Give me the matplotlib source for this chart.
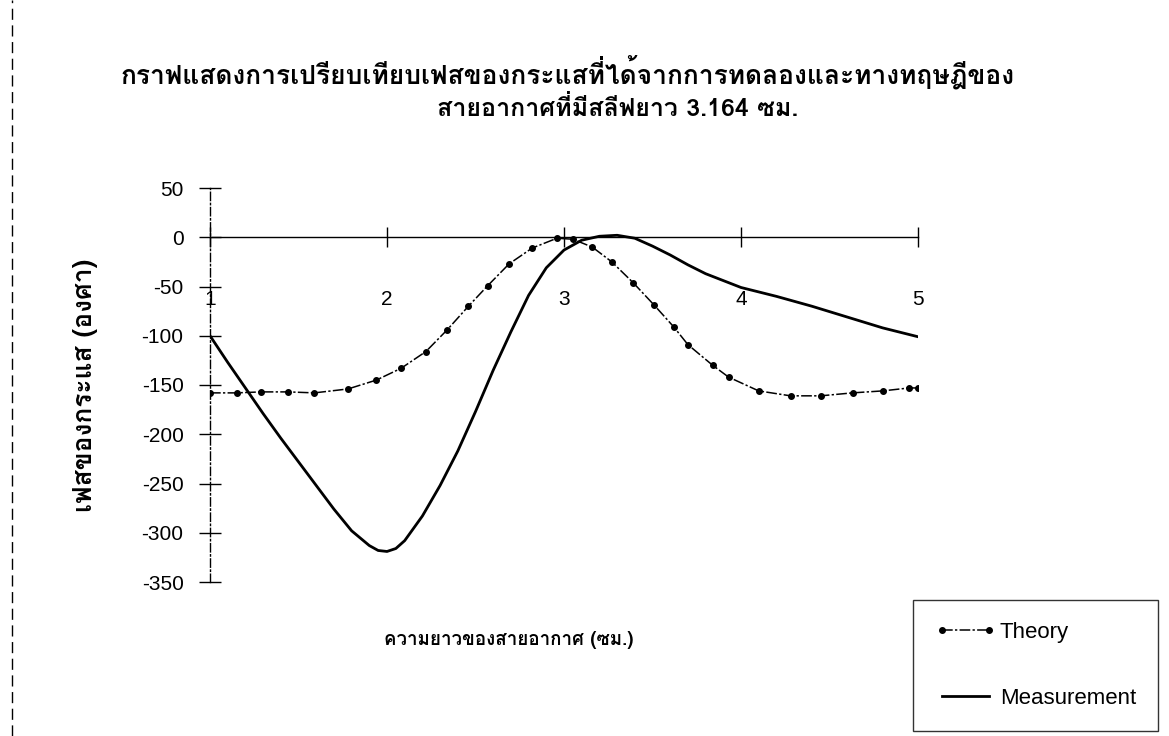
import matplotlib
matplotlib.use("Agg")
import matplotlib.pyplot as plt
from matplotlib import font_manager
from matplotlib.ft2font import FT2Font
from matplotlib.lines import Line2D

# data
theory_x = [1.00, 1.15, 1.29, 1.44, 1.59, 1.78, 1.94, 2.08, 2.22, 2.34, 2.46, 2.57,
            2.69, 2.82, 2.96, 3.05, 3.16, 3.27, 3.39, 3.51, 3.62, 3.70, 3.84, 3.93,
            4.10, 4.28, 4.45, 4.63, 4.80, 4.95, 5.00]
theory_y = [-158, -158, -157, -157, -158, -154, -145, -133, -116, -94, -70, -49,
            -27, -11, -1, -2, -10, -25, -46, -69, -91, -109, -130, -142,
            -156, -161, -161, -158, -156, -153, -153]

meas_x = [1.0, 1.1, 1.2, 1.3, 1.4, 1.5, 1.6, 1.7, 1.8, 1.9, 1.95, 2.0, 2.05, 2.1,
          2.2, 2.3, 2.4, 2.5, 2.6, 2.7, 2.8, 2.9, 3.0, 3.1, 3.2, 3.3, 3.4, 3.5,
          3.6, 3.7, 3.8, 3.9, 4.0, 4.2, 4.4, 4.6, 4.8, 5.0]
meas_y = [-100, -127, -153, -179, -204, -228, -252, -276, -298, -313, -318, -319,
          -316, -308, -283, -252, -217, -177, -135, -96, -59, -31, -13, -3, 1, 2,
          -1, -9, -18, -28, -37, -44, -51, -60, -70, -81, -92, -101]

x_ticks = [1, 2, 3, 4, 5]
y_ticks = [-350, -300, -250, -200, -150, -100, -50, 0, 50]

title_1 = "กราฟแสดงการเปรียบเทียบเฟสของกระแสที่ได้จากการทดลองและทางทฤษฎีของ"
title_2 = "สายอากาศที่มีสลีฟยาว 3.164 ซม."
x_label = "ความยาวของสายอากาศ (ซม.)"
y_label = "เฟสของกระแส (องศา)"


def find_thai_font():
    # look for any installed font that has Thai glyphs
    for f in font_manager.fontManager.ttflist:
        try:
            if 0x0E01 in FT2Font(f.fname).get_charmap():
                return f.name
        except Exception:
            pass
    return None


thai = find_thai_font()
thai_family = [thai, "DejaVu Sans"] if thai else ["DejaVu Sans"]

plt.rcParams["font.family"] = ["Liberation Sans", "DejaVu Sans"]
plt.rcParams["axes.unicode_minus"] = False

fig = plt.figure(figsize=(11.69, 7.36), dpi=100)
ax = fig.add_axes([210 / 1169, 1 - 582 / 736, 708 / 1169, 394 / 736])

ax.plot(theory_x, theory_y, color="black", lw=1.1, marker="o", markersize=4,
        linestyle=(0, (7, 1.5, 1.5, 1.5)), label="Theory")
ax.plot(meas_x, meas_y, color="black", lw=2.0, label="Measurement")

ax.set_xlim(1, 5)
ax.set_ylim(-350, 50)
ax.set_xticks(x_ticks)
ax.set_yticks(y_ticks)
ax.set_yticklabels([str(v) for v in y_ticks])

ax.spines["top"].set_visible(False)
ax.spines["right"].set_visible(False)
ax.spines["bottom"].set_position(("data", 0))
ax.spines["bottom"].set_linewidth(1.0)
ax.spines["left"].set_linewidth(1.0)
ax.spines["left"].set_linestyle((0, (6, 2, 1, 2)))

ax.tick_params(axis="y", direction="inout", length=16, width=1, pad=11,
               labelsize=15, colors="black")
ax.tick_params(axis="x", direction="inout", length=14, width=1, pad=31,
               labelsize=15, colors="black")

fig.text(568 / 1169, 1 - 73 / 736, title_1, ha="center", va="center",
         fontsize=19, fontweight="bold", family=thai_family)
fig.text(618 / 1169, 1 - 108 / 736, title_2, ha="center", va="center",
         fontsize=18, fontweight="bold", family=thai_family)
fig.text(509 / 1169, 1 - 640 / 736, x_label, ha="center", va="center",
         fontsize=13.5, fontweight="bold", family=thai_family)
fig.text(85 / 1169, 1 - 385 / 736, y_label, ha="center", va="center",
         rotation=90, fontsize=19, fontweight="bold", family=thai_family)

leg = ax.legend(loc="upper left", bbox_to_anchor=(913 / 1169, 1 - 600 / 736),
                bbox_transform=fig.transFigure, fontsize=16, frameon=True,
                fancybox=False, edgecolor="black", numpoints=2,
                handlelength=2.7, handletextpad=0.2, labelspacing=2.0,
                borderpad=1.0, borderaxespad=0)
leg.get_frame().set_linewidth(1.0)

# dashed page border on the left of the scan
fig.add_artist(Line2D([12 / 1169, 12 / 1169], [0, 1], color="black", lw=1,
                      linestyle=(0, (8, 4))))

fig.savefig("out.png", dpi=100)
